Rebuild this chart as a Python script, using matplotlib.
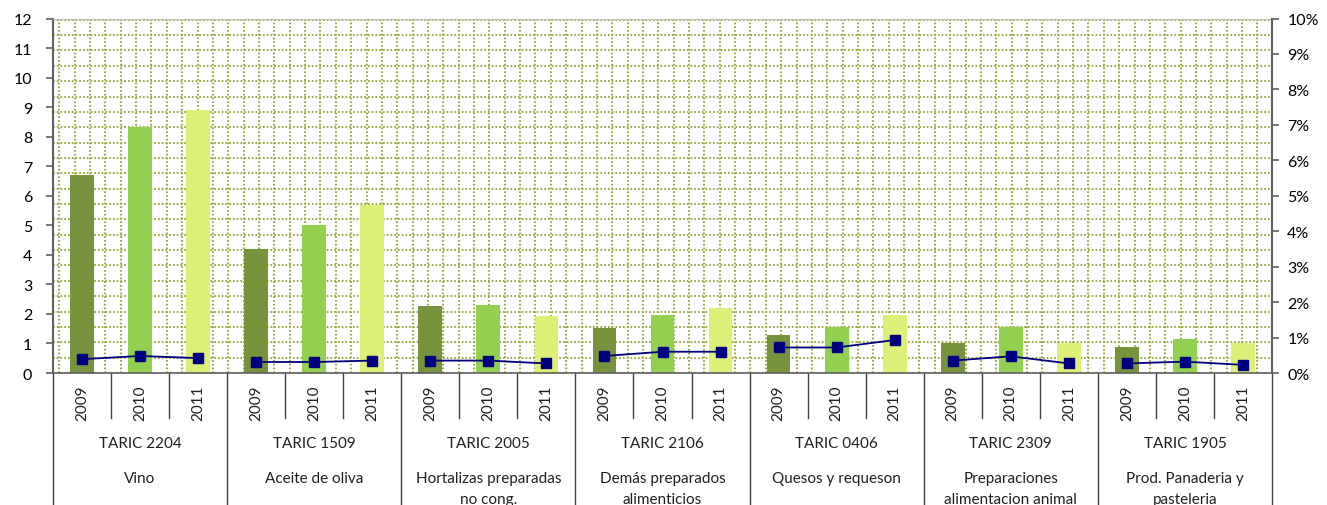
import numpy as np
import matplotlib
matplotlib.use("Agg")
import matplotlib.pyplot as plt
from matplotlib.ticker import PercentFormatter
from matplotlib.lines import Line2D

plt.rcParams['font.family'] = ['Lato', 'DejaVu Sans']

codes = ["TARIC 2204", "TARIC 1509", "TARIC 2005", "TARIC 2106",
         "TARIC 0406", "TARIC 2309", "TARIC 1905"]
descriptions = ["Vino", "Aceite de oliva", "Hortalizas preparadas\nno cong.",
                "Demás preparados\nalimenticios", "Quesos y requeson",
                "Preparaciones\nalimentacion animal", "Prod. Panaderia y\npasteleria"]
years = ["2009", "2010", "2011"]

# bar values (left axis)
values_2009 = [6.71, 4.20, 2.27, 1.53, 1.29, 1.03, 0.88]
values_2010 = [8.34, 5.02, 2.30, 1.97, 1.57, 1.56, 1.15]
values_2011 = [8.91, 5.70, 1.93, 2.20, 1.97, 1.03, 1.00]

# line values (right axis, %)
share_2009 = [0.39, 0.31, 0.35, 0.48, 0.72, 0.35, 0.27]
share_2010 = [0.48, 0.31, 0.35, 0.60, 0.72, 0.47, 0.32]
share_2011 = [0.42, 0.35, 0.27, 0.60, 0.93, 0.27, 0.23]

colors = ["#77933C", "#92D050", "#DDEF77"]

W, H = 1327, 506
L, R, T, B = 53, 1272, 19.5, 374
pos = [L / W, (H - B) / H, (R - L) / W, (B - T) / H]

fig = plt.figure(figsize=(W / 100, H / 100), dpi=100)

# patterned background grid
bg = fig.add_axes(pos, zorder=0)
pw, ph = R - L, B - T
bg.set_xlim(0, pw)
bg.set_ylim(0, ph)
bg.axis("off")
step = 15.36
for y in np.arange(0, ph + 0.1, step):
    bg.axhline(y, color="#A0A843", lw=1.5, ls=(0, (0.8, 1.0)))
for x in np.arange(6.3, pw, step):
    bg.axvline(x, color="#A0A843", lw=1.5, ls=(0, (0.8, 1.0)))

ax = fig.add_axes(pos, zorder=1)
ax.patch.set_visible(False)
n = len(codes)
x_all, v_all, c_all, s_all = [], [], [], []
for g in range(n):
    for k, vals in enumerate([values_2009, values_2010, values_2011]):
        x_all.append(g * 3 + k + 0.5)
        v_all.append(vals[g])
        c_all.append(colors[k])
for g in range(n):
    for shares in [share_2009, share_2010, share_2011]:
        s_all.append(shares[g])

ax.bar(x_all, v_all, width=0.41, color=c_all, zorder=2)
ax.set_xlim(0, 3 * n)
ax.set_ylim(0, 12)
ax.set_yticks(range(0, 13))
ax.set_xticks([])
ax.tick_params(axis="y", direction="out", length=5, width=1.2,
               color="#606060", labelsize=11.5, pad=10)
ax.spines["left"].set_color("#606060")
ax.spines["left"].set_linewidth(1.5)
ax.spines["top"].set_color("#C0C0C0")
ax.spines["right"].set_visible(False)
ax.spines["bottom"].set_color("#606060")
ax.spines["bottom"].set_linewidth(1.2)

ax2 = ax.twinx()
ax2.set_zorder(2)
for g in range(n):
    ax2.plot(x_all[3 * g:3 * g + 3], s_all[3 * g:3 * g + 3], color="#000080",
             marker="s", ms=6.5, lw=1.3)
ax2.set_ylim(0, 10)
ax2.set_yticks(range(0, 11))
ax2.yaxis.set_major_formatter(PercentFormatter(decimals=0))
ax2.tick_params(axis="y", direction="out", length=5, width=1.2,
                color="#606060", labelsize=11.5, pad=6)
ax2.spines["right"].set_color("#606060")
ax2.spines["right"].set_linewidth(1.5)
for s in ["left", "top", "bottom"]:
    ax2.spines[s].set_visible(False)

# multi-level category labels
tr = ax.get_xaxis_transform()
px = 1.0 / ph
for i, x in enumerate(x_all):
    ax.text(x, -(403 - B) * px, years[i % 3], rotation=90, ha="center",
            va="center", fontsize=11, transform=tr, color="#202020")
for b in range(3 * n + 1):
    if b % 3 == 0:
        y1 = -(H - B + 2) * px
    else:
        y1 = -(419 - B) * px
    ax.add_line(Line2D([b, b], [0, y1], transform=tr, color="#404040",
                       lw=1.0, clip_on=False))
for g in range(n):
    ax.text(g * 3 + 1.5, -(444 - B) * px, codes[g], ha="center", va="center",
            fontsize=11, transform=tr, color="#202020")
    for j, line in enumerate(descriptions[g].split("\n")):
        ax.text(g * 3 + 1.5, -(479 + 21 * j - B) * px, line, ha="center",
                va="center", fontsize=11, transform=tr, color="#202020")

fig.savefig("out.png", dpi=100)
